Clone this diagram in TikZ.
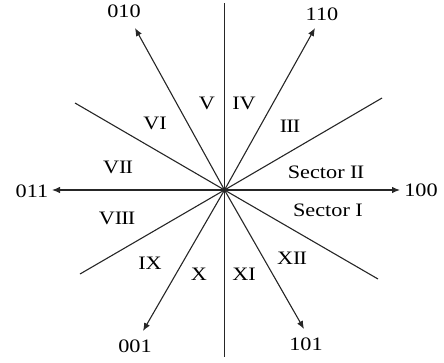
\documentclass[tikz,border=0pt]{standalone}
\usepackage{fontspec}
\usepackage{graphicx}
\setmainfont{Liberation Serif}
\usetikzlibrary{arrows.meta}
\newcommand\wtxt[1]{\scalebox{1.17}[1]{#1}}
\tikzset{
  lbl/.style={inner sep=0pt, text depth=0pt, font=\fontsize{19bp}{19bp}\selectfont},
  axisline/.style={line width=1.1bp, black!85},
  vecarrow/.style={axisline, -{Latex[length=8bp,width=6.5bp]}}
}
\begin{document}
\begin{tikzpicture}[x=1bp,y=-1bp]
\useasboundingbox (0,0) rectangle (444,362);
\coordinate (O) at (224.5,190);
% plain lines
\coordinate (vt) at (224.5,3);
\coordinate (vb) at (224.5,357);
\coordinate (ul) at (75,103);
\coordinate (ur) at (382,98);
\coordinate (ll) at (80,274);
\coordinate (lr) at (378,279);
\draw[axisline] (vt) -- (vb);
\draw[axisline] (O) -- (ul);
\draw[axisline] (O) -- (ur);
\draw[axisline] (O) -- (ll);
\draw[axisline] (O) -- (lr);
% labels of vectors
\node[lbl] (n010) at (124,11) {\wtxt{010}};
\node[lbl] (n110) at (322,14) {\wtxt{110}};
\node[lbl] (n011) at (32,191) {\wtxt{011}};
\node[lbl] (n100) at (421,190) {\wtxt{100}};
\node[lbl] (n001) at (135,346) {\wtxt{001}};
\node[lbl] (n101) at (306,344) {\wtxt{101}};
% arrow tips
\coordinate (t010) at (135,28);
\coordinate (t110) at (315,28);
\coordinate (t011) at (52,190);
\coordinate (t100) at (400,190);
\coordinate (t001) at (143,331);
\coordinate (t101) at (304,329);
\draw[vecarrow] (O) -- (t010);
\draw[vecarrow] (O) -- (t110);
\draw[vecarrow] (O) -- (t011);
\draw[vecarrow] (O) -- (t100);
\draw[vecarrow] (O) -- (t001);
\draw[vecarrow] (O) -- (t101);
% sector labels
\node[lbl] (s1) at (328,210) {\wtxt{Sector I}};
\node[lbl] (s2) at (326,172) {\wtxt{Sector I\kern-0.04emI}};
\node[lbl] (s3) at (290,126) {\wtxt{I\kern-0.04emI\kern-0.04emI}};
\node[lbl] (s4) at (244,103) {\wtxt{IV}};
\node[lbl] (s5) at (207,103) {\wtxt{V}};
\node[lbl] (s6) at (155,123) {\wtxt{VI}};
\node[lbl] (s7) at (118,167) {\wtxt{VI\kern-0.04emI}};
\node[lbl] (s8) at (117,218) {\wtxt{VI\kern-0.04emI\kern-0.04emI}};
\node[lbl] (s9) at (150,263) {\wtxt{IX}};
\node[lbl] (s10) at (199,274) {\wtxt{X}};
\node[lbl] (s11) at (244,274) {\wtxt{XI}};
\node[lbl] (s12) at (292,258) {\wtxt{XI\kern-0.04emI}};
\end{tikzpicture}
\end{document}
